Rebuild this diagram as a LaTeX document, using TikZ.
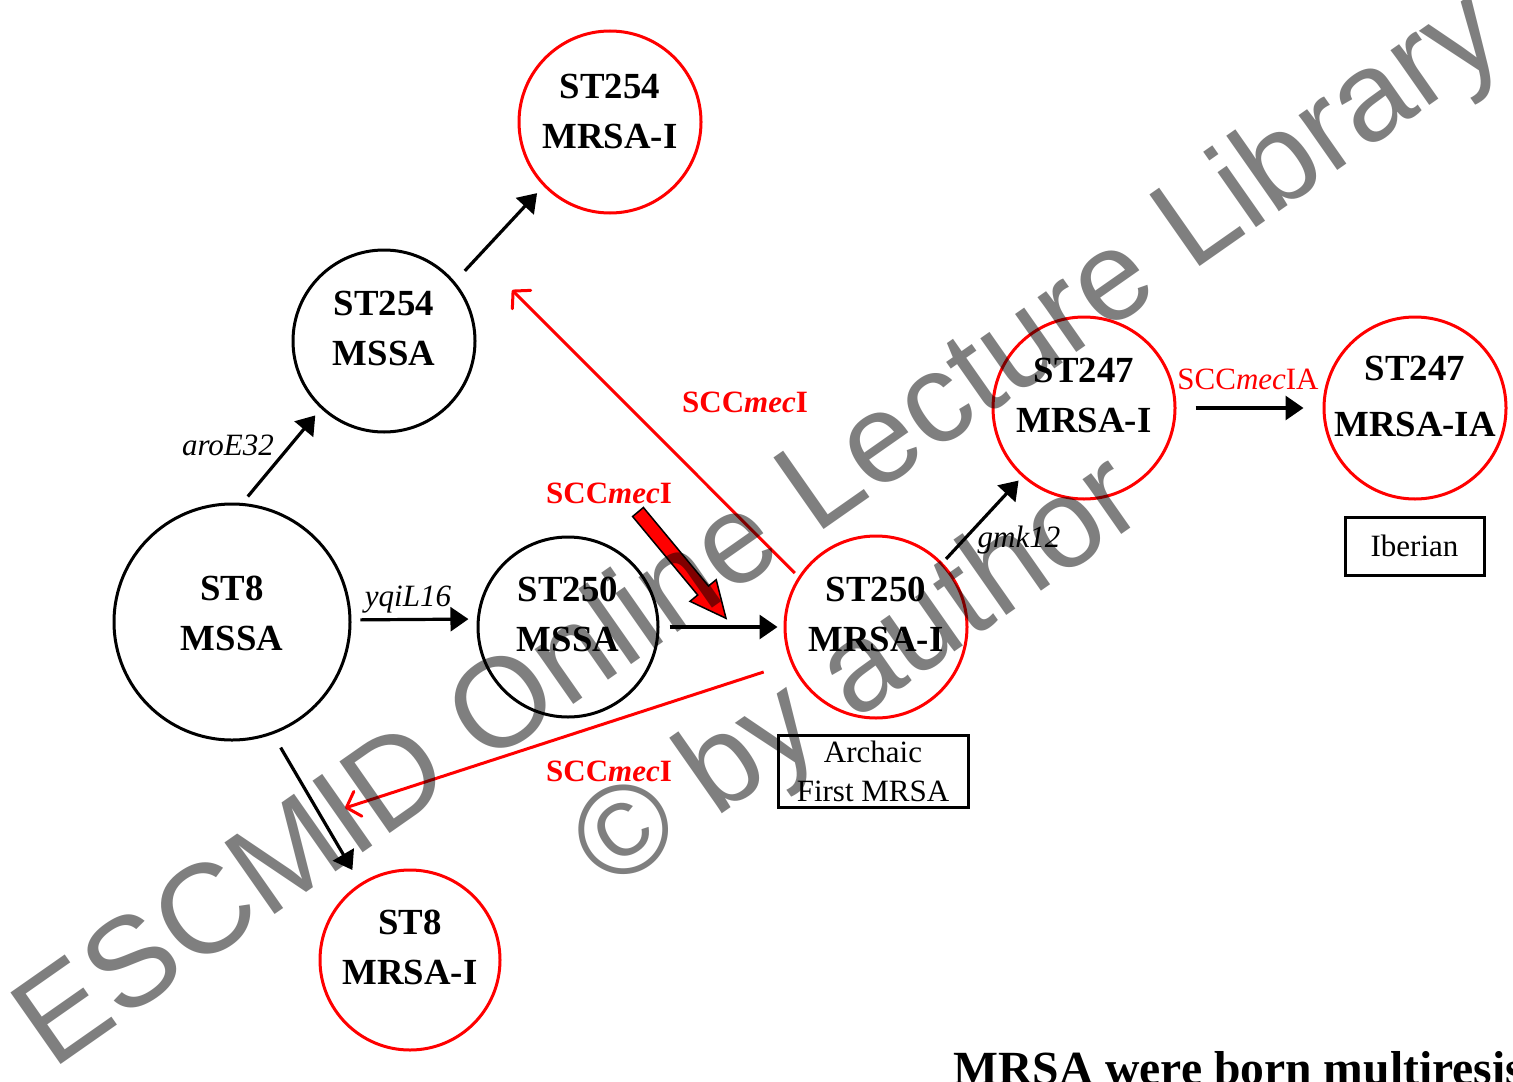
\documentclass[tikz,border=0pt]{standalone}
\usepackage{fontspec}
\setmainfont{Liberation Serif}
\newfontfamily\wmfont{Liberation Sans}
\usetikzlibrary{arrows.meta,calc}
\begin{document}
\begin{tikzpicture}[x=0.5pt,y=-0.5pt,
  circb/.style={circle,draw=black,line width=1.5pt,minimum size=91pt,inner sep=0pt},
  circr/.style={circb,draw=red},
  ctext/.style={align=center,font=\fontsize{18.4}{25}\selectfont\bfseries,inner sep=0pt},
  arr/.style={line width=1.6pt,-{Triangle[length=9pt,width=12pt]}},
  rarr/.style={draw=red,line width=1.5pt,-{Straight Barb[length=6pt,width=13pt,round]}},
  lab/.style={font=\fontsize{15.5}{18}\selectfont,inner sep=0pt,anchor=base},
  redlab/.style={lab,text=red},
  boxn/.style={draw,line width=1.5pt,inner sep=0pt,align=center,font=\fontsize{15.5}{19.5}\selectfont},
  wm/.style={rotate=35,anchor=base,font=\wmfont\fontsize{63.5}{70}\selectfont,text=black,opacity=0.5,inner sep=0pt}
]
\useasboundingbox (0,0) rectangle (1513,1081);
\clip (0,0) rectangle (1513,1081);

% circles
\node[circr] (a) at (610,122) {};
\node[circb] (b) at (384,341) {};
\node[circb,minimum size=118pt] (c) at (232,622) {};
\node[circb,minimum size=90pt] (d) at (568,627) {};
\node[circr] (e) at (876,627) {};
\node[circr] (f) at (1084,408) {};
\node[circr] (g) at (1415,408) {};
\node[circr,minimum size=90pt] (h) at (410,960) {};

% circle texts
\node[ctext] (at) at ([yshift=5.5pt]a.center) {ST254\\MRSA-I};
\node[ctext] (bt) at ([yshift=6.5pt]b.center) {ST254\\MSSA};
\node[ctext] (ct) at ([yshift=4.5pt]c.center) {ST8\\MSSA};
\node[ctext] (dt) at ([yshift=6.5pt]d.center) {ST250\\MSSA};
\node[ctext] (et) at ([yshift=6.5pt]e.center) {ST250\\MRSA-I};
\node[ctext] (ft) at ([yshift=6.5pt]f.center) {ST247\\MRSA-I};
\node[ctext,font=\fontsize{18.4}{28}\selectfont\bfseries] (gt) at ([yshift=6pt]g.center) {ST247\\MRSA-IA};
\node[ctext] (ht) at ([yshift=6.5pt]h.center) {ST8\\MRSA-I};

% black arrows
\draw[arr,shorten <=7.3pt,shorten >=4.7pt] (b.40.8) -- (a.224.2);
\draw[arr,shorten <=4.2pt,shorten >=4.4pt] (c.85) -- (b.227.8);
\draw[arr,shorten <=4.5pt,shorten >=4.2pt] (c.1.5) -- (d.175);
\draw[arr,shorten <=5pt,shorten >=3pt] (d.0) -- (e.180);
\draw[arr,shorten <=2.6pt,shorten >=2.6pt] (e.44.2) -- (f.228.4);
\draw[arr,shorten <=9.5pt,shorten >=9.5pt] (f.0) -- (g.180);
\draw[arr,shorten <=7.7pt,shorten >=7.7pt] (c.-70.7) -- (h.123.4);

% red arrows
\coordinate (t8) at (512,290);
\coordinate (t9) at (345,808);
\draw[rarr,shorten <=2.5pt] (e.147.3) -- (t8);
\draw[rarr,shorten <=14.3pt] (e.203.1) -- (t9);

% big red block arrow
\draw[fill=red,draw=black,line width=0.75pt,line join=miter]
  (643.4,507.5) -- (708.5,586.0) -- (716.2,579.7) -- (726.0,618.3)
  -- (690.0,601.3) -- (697.7,595.0) -- (632.6,516.5) -- cycle;

% labels
\node[lab] (l1) at (228,455) {\textit{aroE32}};
\node[lab] (l2) at (408,606) {\textit{yqiL16}};
\node[lab] (l3) at (1019,547) {\textit{gmk12}};
\node[redlab] (l4) at (745,412) {\textbf{SCC\textit{mec}I}};
\node[redlab] (l5) at (609,503) {\textbf{SCC\textit{mec}I}};
\node[redlab] (l6) at (609,781) {\textbf{SCC\textit{mec}I}};
\node[redlab] (l7) at (1248,389) {SCC\textit{mec}IA};

% boxes
\node[boxn,minimum width=69.5pt,minimum height=29pt] (ib) at (1414.5,546) {Iberian};
\node[boxn,minimum width=95pt,minimum height=36pt] (ar) at (873,771) {Archaic\\First MRSA};

% bottom title (cut off at the picture's edge, as in the original)
\node[anchor=base west,inner sep=0pt,font=\fontsize{23.8}{26}\selectfont\bfseries] (title) at (953,1084) {MRSA were born multiresistant};

% watermark
\node[wm] (wm1) at (781,560) {ESCMID Online Lecture Library};
\node[wm] (wm2) at (880,704) {\char"00A9{} by author};
\end{tikzpicture}
\end{document}
